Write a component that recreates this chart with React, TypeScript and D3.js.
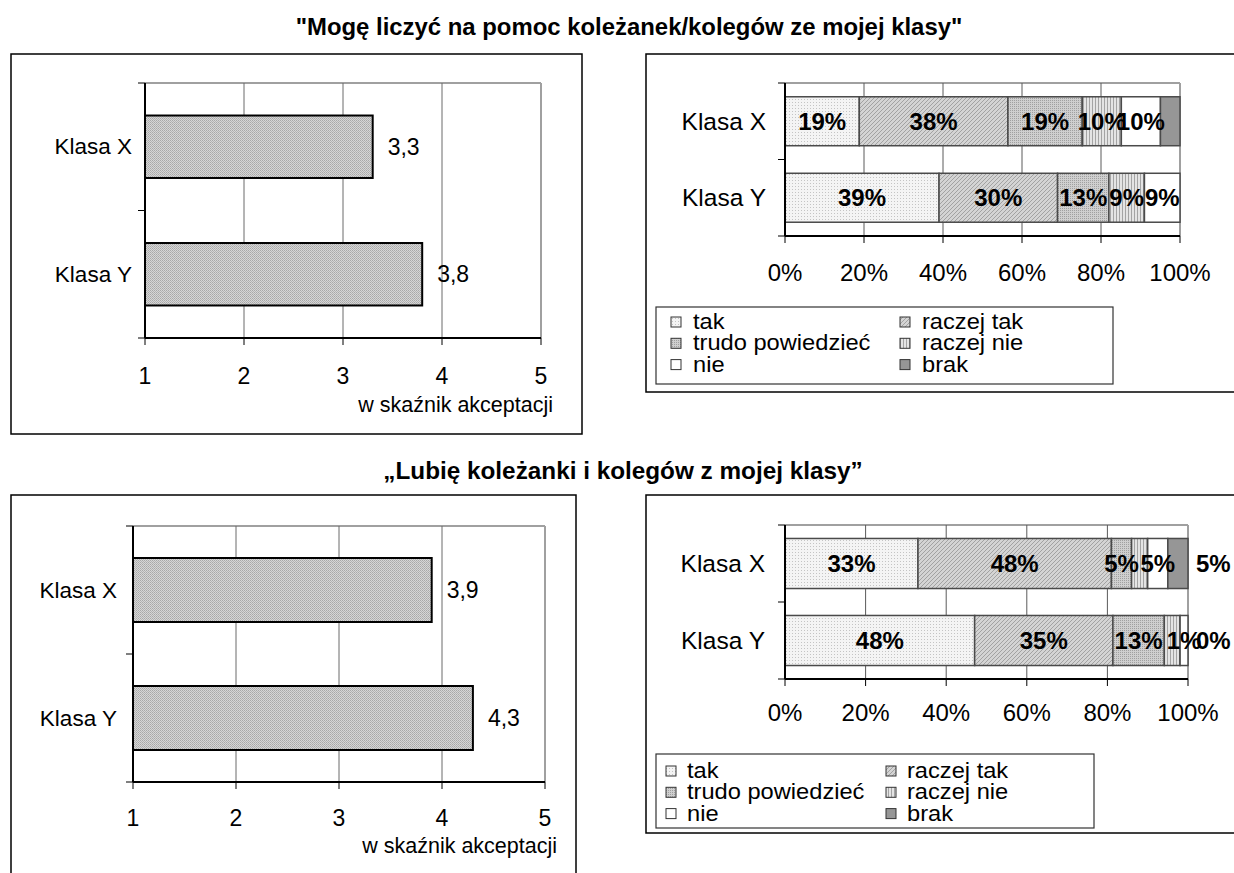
import React from "react";
import * as d3 from "d3";

// ---------- data ----------
const categories = ["Klasa X", "Klasa Y"];
const meanTicks = [1, 2, 3, 4, 5];
const pctTicks = [0, 0.2, 0.4, 0.6, 0.8, 1];
const answers = ["tak", "raczej tak", "trudo powiedzieć", "raczej nie", "nie", "brak"];

const title1 = '"Mogę liczyć na pomoc koleżanek/kolegów ze mojej klasy"';
const title2 = "„Lubię koleżanki i kolegów z mojej klasy”";
const meanAxisTitle = "w skaźnik akceptacji";

const meanQ1 = [3.3, 3.8];
const meanQ2 = [3.9, 4.3];

const q1KlasaX = [19, 38, 19, 10, 10, 5];
const q1KlasaY = [39, 30, 13, 9, 9, 0];
const q1LabelsX = ["19%", "38%", "19%", "10%", "10%", ""];
const q1LabelsY = ["39%", "30%", "13%", "9%", "9%", ""];

const q2KlasaX = [33, 48, 5, 4, 5, 5];
const q2KlasaY = [48, 35, 13, 4, 2, 0];
const q2LabelsX = ["33%", "48%", "5%", "", "5%", "5%"];
const q2LabelsY = ["48%", "35%", "13%", "", "1%", "0%"];

// ---------- styles ----------
const FONT = "'Liberation Sans', Arial, Helvetica, sans-serif";
const segFills = ["url(#pTak)", "url(#pRTak)", "url(#pTrudno)", "url(#pRNie)", "#ffffff", "#969696"];
const fmtMean = (v: number) => d3.format(".1f")(v).replace(".", ",");
const fmtPct = d3.format(".0%");

function Patterns() {
  return (
    <defs>
      <pattern id="pBar" width="2" height="2" patternUnits="userSpaceOnUse">
        <rect width="2" height="2" fill="#d6d6d6" />
        <rect width="1" height="1" fill="#a8a8a8" />
        <rect x="1" y="1" width="1" height="1" fill="#b4b4b4" />
      </pattern>
      <pattern id="pTak" width="3" height="3" patternUnits="userSpaceOnUse">
        <rect width="3" height="3" fill="#f4f4f4" />
        <rect width="1" height="1" fill="#c4c4c4" />
      </pattern>
      <pattern id="pRTak" width="4" height="4" patternUnits="userSpaceOnUse">
        <rect width="4" height="4" fill="#d4d4d4" />
        <path d="M0,4 L4,0 M-1,1 L1,-1 M3,5 L5,3" stroke="#a2a2a2" strokeWidth="1" />
      </pattern>
      <pattern id="pTrudno" width="2" height="2" patternUnits="userSpaceOnUse">
        <rect width="2" height="2" fill="#cfcfcf" />
        <rect width="1" height="1" fill="#a0a0a0" />
      </pattern>
      <pattern id="pRNie" width="3" height="3" patternUnits="userSpaceOnUse">
        <rect width="3" height="3" fill="#e4e4e4" />
        <rect width="1" height="3" fill="#a4a4a4" />
      </pattern>
    </defs>
  );
}

type Rect = { x: number; y: number; w: number; h: number };
type Plot = { x0: number; x1: number; y0: number; y1: number };

function MeanPanel(props: {
  frame: Rect;
  plot: Plot;
  values: number[];
  pad: number;
  catGap: number;
  tickBaseline: number;
  titleBaseline: number;
}) {
  const { frame, plot, values, pad, catGap, tickBaseline, titleBaseline } = props;
  const x = d3.scaleLinear().domain([1, 5]).range([plot.x0, plot.x1]);
  const y = d3
    .scaleBand<string>()
    .domain(categories)
    .range([plot.y0, plot.y1])
    .paddingInner(pad)
    .paddingOuter(pad / 2);
  const bounds = d3.range(categories.length + 1).map((i) => plot.y0 + i * y.step());
  return (
    <g>
      <rect x={frame.x} y={frame.y} width={frame.w} height={frame.h} fill="#fff" stroke="#000" strokeWidth={1.5} />
      <line x1={plot.x0} x2={plot.x1} y1={plot.y0} y2={plot.y0} stroke="#a0a0a0" strokeWidth={2} />
      <line x1={plot.x1} x2={plot.x1} y1={plot.y0} y2={plot.y1} stroke="#a0a0a0" strokeWidth={2} />
      {meanTicks.slice(1, -1).map((t) => (
        <line key={t} x1={x(t)} x2={x(t)} y1={plot.y0} y2={plot.y1} stroke="#6a6a6a" strokeWidth={1} />
      ))}
      {categories.map((c, i) => (
        <rect
          key={c}
          x={x(1)}
          y={y(c)}
          width={x(values[i]) - x(1)}
          height={y.bandwidth()}
          fill="url(#pBar)"
          stroke="#000"
          strokeWidth={2}
        />
      ))}
      <line x1={plot.x0} x2={plot.x0} y1={plot.y0} y2={plot.y1} stroke="#000" strokeWidth={2} />
      <line x1={plot.x0} x2={plot.x1} y1={plot.y1} y2={plot.y1} stroke="#000" strokeWidth={2} />
      {bounds.map((b, i) => (
        <line key={i} x1={plot.x0 - 7} x2={plot.x0} y1={b} y2={b} stroke="#000" strokeWidth={1} />
      ))}
      {meanTicks.map((t) => (
        <line key={t} x1={x(t)} x2={x(t)} y1={plot.y1} y2={plot.y1 + 7} stroke="#000" strokeWidth={1} />
      ))}
      {meanTicks.map((t) => (
        <text key={t} x={x(t)} y={tickBaseline} textAnchor="middle" fontSize={23} fontFamily={FONT} fill="#000">
          {t}
        </text>
      ))}
      <text x={plot.x1 + 12} y={titleBaseline} textAnchor="end" fontSize={21.5} fontFamily={FONT} fill="#000">
        {meanAxisTitle}
      </text>
      {categories.map((c, i) => (
        <g key={c}>
          <text
            x={plot.x0 - catGap}
            y={(y(c) as number) + y.bandwidth() / 2}
            textAnchor="end"
            dominantBaseline="central"
            fontSize={22.5}
            fontFamily={FONT}
            fill="#000"
          >
            {c}
          </text>
          <text
            x={x(values[i]) + 15}
            y={(y(c) as number) + y.bandwidth() / 2}
            dominantBaseline="central"
            fontSize={23}
            fontFamily={FONT}
            fill="#000"
          >
            {fmtMean(values[i])}
          </text>
        </g>
      ))}
    </g>
  );
}

function StackPanel(props: {
  frame: Rect;
  plot: Plot;
  rows: number[][];
  labels: string[][];
  pad: number;
  catGap: number;
  tickBaseline: number;
  lastOutside: boolean;
  legend: Rect;
  legendCols: number[];
  legendTextGap: number;
  legendFirstRow: number;
}) {
  const { frame, plot, rows, labels, pad, catGap, tickBaseline, lastOutside, legend, legendCols, legendTextGap, legendFirstRow } =
    props;
  const x = d3.scaleLinear().domain([0, 1]).range([plot.x0, plot.x1]);
  const y = d3
    .scaleBand<string>()
    .domain(categories)
    .range([plot.y0, plot.y1])
    .paddingInner(pad)
    .paddingOuter(pad / 2);
  const bounds = d3.range(categories.length + 1).map((i) => plot.y0 + i * y.step());
  const table = categories.map((c, i) => {
    const o: any = { cat: c };
    answers.forEach((a, j) => (o[a] = rows[i][j]));
    return o;
  });
  const series = d3.stack<any>().keys(answers).offset(d3.stackOffsetExpand)(table);
  const rowStep = 21.3;
  return (
    <g>
      <rect x={frame.x} y={frame.y} width={frame.w} height={frame.h} fill="#fff" stroke="#000" strokeWidth={1.5} />
      <line x1={plot.x0} x2={plot.x1} y1={plot.y0} y2={plot.y0} stroke="#a0a0a0" strokeWidth={2} />
      <line x1={plot.x1} x2={plot.x1} y1={plot.y0} y2={plot.y1} stroke="#a0a0a0" strokeWidth={2} />
      {pctTicks.slice(1, -1).map((t) => (
        <line key={t} x1={x(t)} x2={x(t)} y1={plot.y0} y2={plot.y1} stroke="#5a5a5a" strokeWidth={1} />
      ))}
      {series.map((s, j) =>
        s.map((d, i) =>
          d[1] - d[0] > 0 ? (
            <rect
              key={`${j}-${i}`}
              x={x(d[0])}
              y={y(categories[i])}
              width={x(d[1]) - x(d[0])}
              height={y.bandwidth()}
              fill={segFills[j]}
              stroke="#4a4a4a"
              strokeWidth={1.5}
            />
          ) : null
        )
      )}
      <line x1={plot.x0} x2={plot.x0} y1={plot.y0} y2={plot.y1} stroke="#000" strokeWidth={2} />
      <line x1={plot.x0} x2={plot.x1} y1={plot.y1} y2={plot.y1} stroke="#000" strokeWidth={2} />
      {bounds.map((b, i) => (
        <line key={i} x1={plot.x0 - 7} x2={plot.x0} y1={b} y2={b} stroke="#000" strokeWidth={1} />
      ))}
      {pctTicks.map((t) => (
        <line key={t} x1={x(t)} x2={x(t)} y1={plot.y1} y2={plot.y1 + 7} stroke="#000" strokeWidth={1} />
      ))}
      {pctTicks.map((t) => (
        <text key={t} x={x(t)} y={tickBaseline} textAnchor="middle" fontSize={24} fontFamily={FONT} fill="#000">
          {fmtPct(t)}
        </text>
      ))}
      {categories.map((c) => (
        <text
          key={c}
          x={plot.x0 - catGap}
          y={(y(c) as number) + y.bandwidth() / 2}
          textAnchor="end"
          dominantBaseline="central"
          fontSize={24.5}
          fontFamily={FONT}
          fill="#000"
        >
          {c}
        </text>
      ))}
      {series.map((s, j) =>
        s.map((d, i) => {
          const txt = labels[i][j];
          if (!txt) return null;
          const outside = lastOutside && j === answers.length - 1;
          const cx = outside ? x(1) + 8 : (x(d[0]) + x(d[1])) / 2;
          return (
            <text
              key={`l${j}-${i}`}
              x={cx}
              y={(y(categories[i]) as number) + y.bandwidth() / 2}
              textAnchor={outside ? "start" : "middle"}
              dominantBaseline="central"
              fontSize={24}
              fontWeight="bold"
              fontFamily={FONT}
              fill="#000"
            >
              {txt}
            </text>
          );
        })
      )}
      <rect x={legend.x} y={legend.y} width={legend.w} height={legend.h} fill="#fff" stroke="#333" strokeWidth={1.2} />
      {answers.map((a, k) => {
        const col = k % 2;
        const row = Math.floor(k / 2);
        const cy = legend.y + legendFirstRow + row * rowStep;
        const mx = legend.x + legendCols[col];
        return (
          <g key={a}>
            <rect x={mx} y={cy - 5} width={10} height={10} fill={segFills[k]} stroke="#333" strokeWidth={1} />
            <text
              transform={`translate(${mx + legendTextGap},${cy}) scale(1.1,1)`}
              dominantBaseline="central"
              fontSize={21.5}
              fontFamily={FONT}
              fill="#000"
            >
              {a}
            </text>
          </g>
        );
      })}
    </g>
  );
}

export default function App() {
  return (
    <svg
      width={1234}
      height={873}
      style={{ position: "absolute", left: 0, top: 0, display: "block", background: "#fff" }}
    >
      <Patterns />
      <rect width={1234} height={873} fill="#fff" />
      <text x={629} y={35} textAnchor="middle" fontSize={23.9} fontWeight="bold" fontFamily={FONT} fill="#000">
        {title1}
      </text>
      <text x={623} y={479} textAnchor="middle" fontSize={24.3} fontWeight="bold" fontFamily={FONT} fill="#000">
        {title2}
      </text>

      <MeanPanel
        frame={{ x: 11, y: 54, w: 571, h: 380 }}
        plot={{ x0: 145, x1: 541, y0: 83, y1: 338 }}
        values={meanQ1}
        pad={0.51}
        catGap={13}
        tickBaseline={384}
        titleBaseline={412}
      />
      <MeanPanel
        frame={{ x: 11, y: 495, w: 565, h: 400 }}
        plot={{ x0: 133, x1: 545, y0: 526, y1: 782 }}
        values={meanQ2}
        pad={0.5}
        catGap={16}
        tickBaseline={826}
        titleBaseline={853}
      />
      <StackPanel
        frame={{ x: 646, y: 54, w: 600, h: 338 }}
        plot={{ x0: 785, x1: 1180, y0: 83, y1: 236 }}
        rows={[q1KlasaX, q1KlasaY]}
        labels={[q1LabelsX, q1LabelsY]}
        pad={0.36}
        catGap={19}
        tickBaseline={281}
        lastOutside={false}
        legend={{ x: 656, y: 307, w: 457, h: 77 }}
        legendCols={[15, 244]}
        legendTextGap={22}
        legendFirstRow={15}
      />
      <StackPanel
        frame={{ x: 646, y: 495, w: 600, h: 338 }}
        plot={{ x0: 785, x1: 1188, y0: 525, y1: 679 }}
        rows={[q2KlasaX, q2KlasaY]}
        labels={[q2LabelsX, q2LabelsY]}
        pad={0.35}
        catGap={20}
        tickBaseline={721}
        lastOutside={true}
        legend={{ x: 656, y: 754, w: 438, h: 74 }}
        legendCols={[10, 230]}
        legendTextGap={21}
        legendFirstRow={17}
      />
    </svg>
  );
}
